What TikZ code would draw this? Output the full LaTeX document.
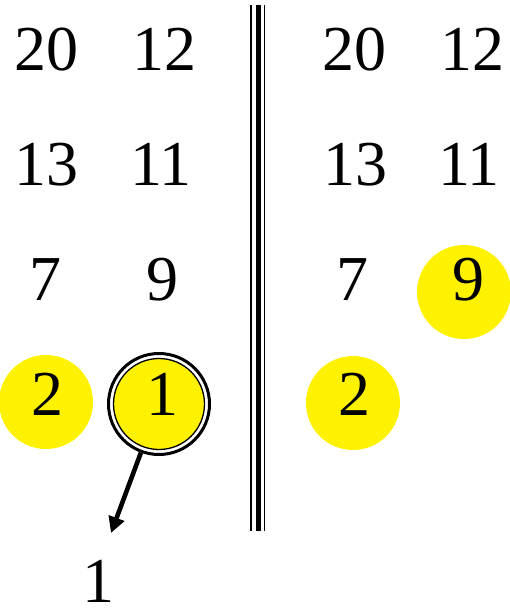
\documentclass[tikz,border=0pt]{standalone}
\usepackage{fontspec}
\setmainfont{Liberation Serif}
\usepackage{xcolor}
\usetikzlibrary{arrows.meta, positioning, backgrounds}
\tikzset{
  numlabel/.style={anchor=base, inner sep=0pt, font=\fontsize{64}{64}\selectfont},
  hlcircle/.style={circle, fill=yellow, minimum size=94pt, inner sep=0pt},
  pickring/.style={circle, draw=black, fill=white, line width=3pt,
                   minimum size=101pt, inner sep=0pt},
  pickdisk/.style={circle, draw=black, fill=yellow, line width=1.3pt,
                   minimum size=91pt, inner sep=0pt},
  outarrow/.style={-{Triangle[length=16pt, width=16pt]}, line width=4.6pt},
  divider/.style={draw=black},
}

\begin{document}
\begin{tikzpicture}[x=1pt, y=-1pt]
  \useasboundingbox[fill=white] (0,0) rectangle (510,611);

  % --- Highlight circles ---
  \node[hlcircle] (h2l) at (46,402) {};
  \node[pickring] (c1) at (159,404) {};
  \node[pickdisk] (c1in) at (159,404) {};
  \node[hlcircle] (h2r) at (353,403) {};
  \node[hlcircle] (h9r) at (464,292) {};

  % --- Left run ---
  \node[numlabel] (l20) at (47,70)  {20};
  \node[numlabel] (l12) at (164,70) {12};
  \node[numlabel] (l13) at (47,185) {13};
  \node[numlabel] (l11) at (161,185) {11};
  \node[numlabel] (l7)  at (46,300) {7};
  \node[numlabel] (l9)  at (162,300) {9};
  \node[numlabel] (l2)  at (47,415) {2};
  \node[numlabel] (l1)  at (162,415) {1};

  % --- Right run ---
  \node[numlabel] (r20) at (354,70)  {20};
  \node[numlabel] (r12) at (472,70)  {12};
  \node[numlabel] (r13) at (355,185) {13};
  \node[numlabel] (r11) at (469,185) {11};
  \node[numlabel] (r7)  at (352,300) {7};
  \node[numlabel] (r9)  at (468,300) {9};
  \node[numlabel] (r2)  at (354,415) {2};

  % --- Divider ---
  \draw[divider, line width=1.6pt] (251,5) -- (251,531);
  \draw[divider, line width=5.5pt] (258.7,5) -- (258.7,531);
  \draw[divider, line width=1.6pt] (264.3,5) -- (264.3,531);

  % --- Output ---
  \node[numlabel] (out) at (98,602) {1};
  \coordinate (tip) at (111,533);
  \draw[outarrow] (c1) -- (tip);
\end{tikzpicture}
\end{document}
